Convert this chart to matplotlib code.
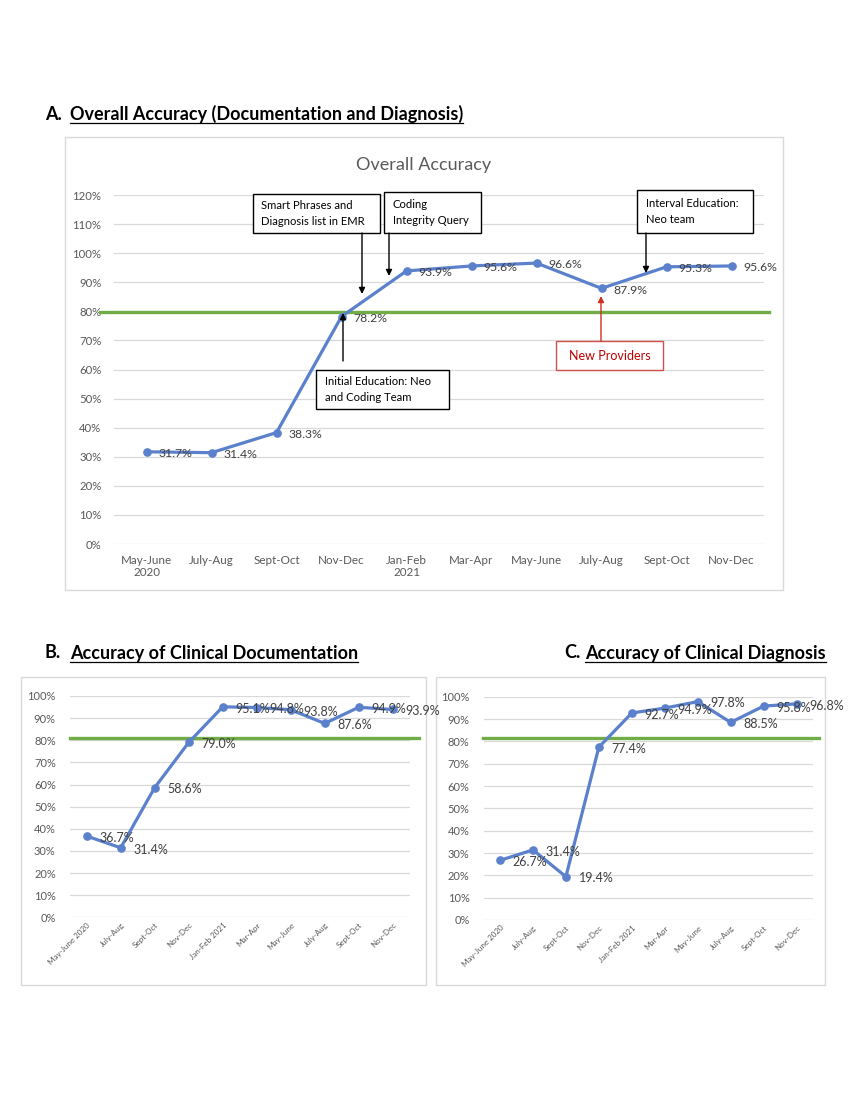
import matplotlib
matplotlib.use("Agg")
import matplotlib.pyplot as plt
from matplotlib.patches import Rectangle
from matplotlib.ticker import FuncFormatter, MultipleLocator

plt.rcParams["font.family"] = ["Lato", "DejaVu Sans"]

# ---------------- data ----------------
periods_a = ["May-June\n2020", "July-Aug", "Sept-Oct", "Nov-Dec", "Jan-Feb\n2021",
             "Mar-Apr", "May-June", "July-Aug", "Sept-Oct", "Nov-Dec"]
periods_bc = ["May-June 2020", "July-Aug", "Sept-Oct", "Nov-Dec", "Jan-Feb 2021",
              "Mar-Apr", "May-June", "July-Aug", "Sept-Oct", "Nov-Dec"]
overall = [31.7, 31.4, 38.3, 78.2, 93.9, 95.6, 96.6, 87.9, 95.3, 95.6]
documentation = [36.7, 31.4, 58.6, 79.0, 95.1, 94.8, 93.8, 87.6, 94.9, 93.9]
diagnosis = [26.7, 31.4, 19.4, 77.4, 92.7, 94.9, 97.8, 88.5, 95.8, 96.8]
targets = [79.6, 80.9, 81.4]   # green benchmark lines (A, B, C)

headers = ["A.", "Overall Accuracy (Documentation and Diagnosis)",
           "B.", "Accuracy of Clinical Documentation",
           "C.", "Accuracy of Clinical Diagnosis"]
chart_title_a = "Overall Accuracy"

# ---------------- style ----------------
W, H = 850, 1100
BLUE = "#5B80CC"
GREEN = "#70AD47"
GRID = "#D9D9D9"
TICK = "#595959"
LABEL = "#404040"

fig = plt.figure(figsize=(W / 100, H / 100), dpi=100)
fig.patch.set_facecolor("white")


def rect(x0, y0, x1, y1):
    """pixel box (top-left origin) -> figure fraction rect"""
    return [x0 / W, 1 - y1 / H, (x1 - x0) / W, (y1 - y0) / H]


# background overlay for frames
bg = fig.add_axes([0, 0, 1, 1], zorder=0)
bg.set_xlim(0, W)
bg.set_ylim(H, 0)
bg.axis("off")
for (x0, y0, x1, y1) in [(65, 137, 783, 590), (21, 677, 426, 985), (436, 677, 825, 985)]:
    bg.add_patch(Rectangle((x0, y0), x1 - x0, y1 - y0, fill=False,
                           edgecolor="#D9D9D9", lw=1.0))


def style_axes(ax, ymax, ypad):
    ax.set_xlim(-0.5, 9.5)
    ax.set_ylim(0, ymax)
    ax.yaxis.set_major_locator(MultipleLocator(10))
    ax.yaxis.set_major_formatter(FuncFormatter(lambda v, p: f"{v:.0f}%"))
    for s in ax.spines.values():
        s.set_visible(False)
    ax.yaxis.grid(True, color=GRID, lw=0.9)
    ax.set_axisbelow(True)
    ax.tick_params(axis="both", length=0, colors=TICK)
    ax.tick_params(axis="y", pad=ypad)
    ax.patch.set_alpha(0)


def draw_series(ax, values, target, green_x, fs, dx):
    x = list(range(len(values)))
    ax.plot(green_x, [target, target], color=GREEN, lw=2.4, clip_on=False, zorder=2)
    ax.plot(x, values, color=BLUE, lw=2.3, marker="o", ms=5.2, zorder=3,
            solid_joinstyle="round")
    for xi, v in zip(x, values):
        ax.annotate(f"{v:.1f}%", (xi, v), xytext=(dx, -1.3), textcoords="offset points",
                    ha="left", va="center", fontsize=fs, color=LABEL, zorder=4)


# ---------------- panel A ----------------
axA = fig.add_axes(rect(114, 195, 764, 544), zorder=2)
style_axes(axA, 120, 9)
axA.set_xticks(range(10))
axA.set_xticklabels(periods_a, fontsize=8.4, linespacing=1.15)
axA.tick_params(axis="x", pad=8)
axA.tick_params(axis="y", labelsize=8.2)
draw_series(axA, overall, targets[0], [-0.72, 9.57], 8.8, 8.6)

# ---------------- panel B ----------------
axB = fig.add_axes(rect(69.7, 696, 409.7, 917.3), zorder=2)
style_axes(axB, 100, 10)
axB.set_xticks(range(10))
axB.set_xticklabels(periods_bc, fontsize=5.8, rotation=45, ha="right",
                    rotation_mode="anchor")
axB.tick_params(axis="x", pad=3)
axB.tick_params(axis="y", labelsize=8.0)
draw_series(axB, documentation, targets[1], [-0.49, 9.77], 9.0, 9.2)

# ---------------- panel C ----------------
axC = fig.add_axes(rect(483.5, 696.7, 813.1, 920), zorder=2)
style_axes(axC, 100, 10)
axC.set_xticks(range(10))
axC.set_xticklabels(periods_bc, fontsize=5.8, rotation=45, ha="right",
                    rotation_mode="anchor")
axC.tick_params(axis="x", pad=3)
axC.tick_params(axis="y", labelsize=8.0)
draw_series(axC, diagnosis, targets[2], [-0.52, 9.68], 9.0, 9.2)

# ---------------- foreground overlay: headers, title, callouts ----------------
fg = fig.add_axes([0, 0, 1, 1], zorder=10)
fg.set_xlim(0, W)
fg.set_ylim(H, 0)
fg.axis("off")
fg.patch.set_alpha(0)

fg.text(424, 165, chart_title_a, ha="center", va="center", fontsize=13, color=TICK)

renderer = fig.canvas.get_renderer()
HFS = 13.0


def header(x, y, lab, txt, gap, align="left"):
    t_lab = fg.text(0, y, lab, ha="left", va="center", fontsize=HFS,
                    fontweight="bold", color="black")
    t_txt = fg.text(0, y, txt, ha="left", va="center", fontsize=HFS,
                    fontweight="bold", color="black")
    wt = t_txt.get_window_extent(renderer).width
    if align == "left":
        xl = x
    else:
        xl = x - wt - gap
    t_lab.set_x(xl)
    t_txt.set_x(xl + gap)
    fg.plot([xl + gap, xl + gap + wt], [y + 8.5, y + 8.5], color="black", lw=0.9)


header(45, 114, headers[0], headers[1], 25)
header(45, 653, headers[2], headers[3], 25)
header(826, 653, headers[4], headers[5], 21, align="right")

BOXFS = 8.1


def callout(x0, y0, x1, y1, lines, color="black", edge="black", tx=None, center=False):
    fg.add_patch(Rectangle((x0, y0), x1 - x0, y1 - y0, facecolor="white",
                           edgecolor=edge, lw=1.0, zorder=5))
    if center:
        fg.text((x0 + x1) / 2, (y0 + y1) / 2, lines, ha="center", va="center",
                fontsize=9.0, color=color, zorder=6)
    else:
        fg.text(tx, (y0 + y1) / 2, lines, ha="left", va="center", fontsize=BOXFS,
                color=color, linespacing=1.55, zorder=6)


def arrow(x, y_from, y_to, color="black"):
    fg.annotate("", xy=(x, y_to), xytext=(x, y_from),
                arrowprops=dict(arrowstyle="-|>", color=color, lw=1.0,
                                mutation_scale=9, shrinkA=0, shrinkB=0), zorder=6)


callout(253, 194, 380, 233, "Smart Phrases and\nDiagnosis list in EMR", tx=261)
callout(384, 192, 481, 233, "Coding\nIntegrity Query", tx=393)
callout(637, 190, 753, 233, "Interval Education:\nNeo team", tx=646)
callout(316, 370, 449, 409, "Initial Education: Neo\nand Coding Team", tx=325)
callout(556, 341, 663, 370, "New Providers", color="#C00000", edge="#D0504D", center=True)

arrow(362, 233, 294)
arrow(389, 233, 276)
arrow(646, 233, 273)
arrow(343, 361, 313)
arrow(601, 341, 296, color="#D03020")

fig.savefig("out.png", dpi=100, facecolor="white")
